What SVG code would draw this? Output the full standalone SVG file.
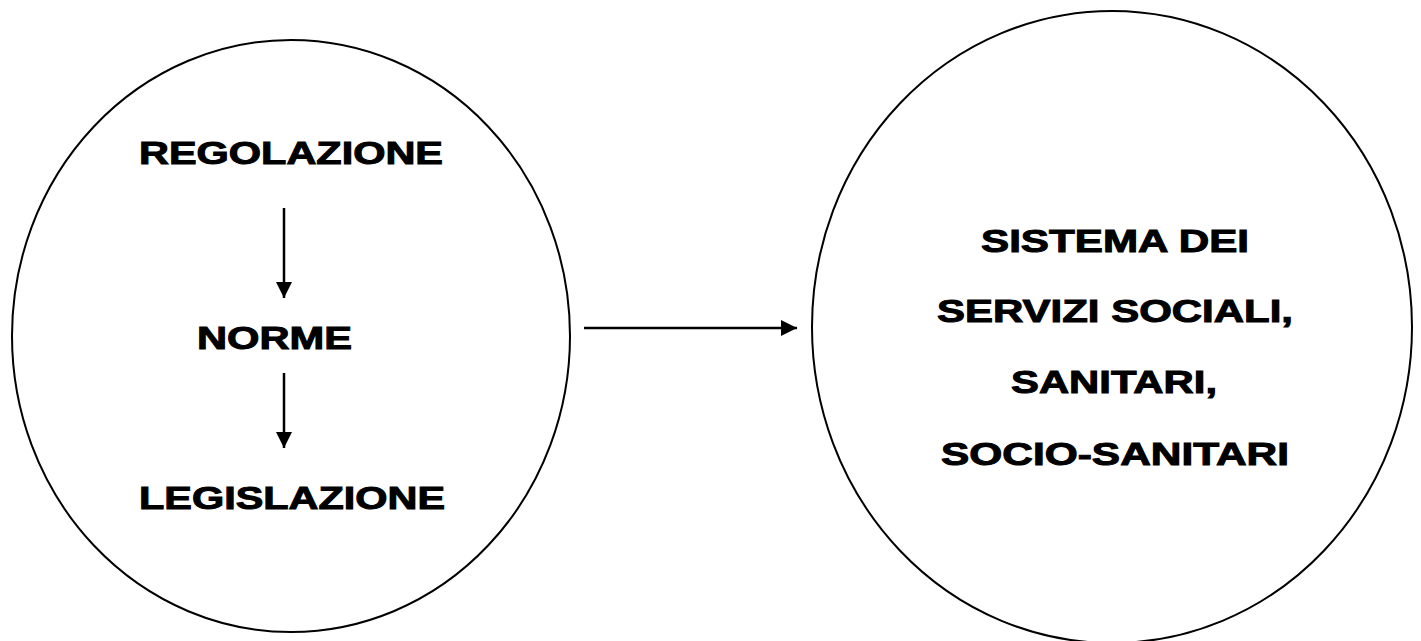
<svg xmlns="http://www.w3.org/2000/svg" width="1421" height="641" viewBox="0 0 1421 641">
<style>
.node{fill:#fff;stroke:#000;stroke-width:2}
.lbl{font-family:"Liberation Sans",Arial,sans-serif;font-weight:bold;font-size:32px;fill:#000;stroke:#000;stroke-width:1}
.con{stroke:#000;stroke-width:2.5;fill:none}
</style>
<defs>
<marker id="ah" markerUnits="userSpaceOnUse" markerWidth="16" markerHeight="16" viewBox="0 0 15 15" refX="15" refY="7.5" orient="auto">
<path d="M0,0 L15,7.5 L0,15 Z" fill="#000"/>
</marker>
</defs>
<rect width="1421" height="641" fill="#fff"/>
<g id="left-node">
<ellipse class="node" cx="291" cy="336" rx="279" ry="296"/>
<text class="lbl" x="139" y="164" textLength="304" lengthAdjust="spacingAndGlyphs">REGOLAZIONE</text>
<text class="lbl" x="197" y="349" textLength="155" lengthAdjust="spacingAndGlyphs">NORME</text>
<text class="lbl" x="139" y="509" textLength="306" lengthAdjust="spacingAndGlyphs">LEGISLAZIONE</text>
</g>
<g id="right-node">
<ellipse class="node" cx="1112" cy="327" rx="300" ry="316"/>
<text class="lbl" x="981" y="252" textLength="268" lengthAdjust="spacingAndGlyphs">SISTEMA DEI</text>
<text class="lbl" x="937" y="322" textLength="356" lengthAdjust="spacingAndGlyphs">SERVIZI SOCIALI,</text>
<text class="lbl" x="1011" y="393" textLength="206" lengthAdjust="spacingAndGlyphs">SANITARI,</text>
<text class="lbl" x="941" y="465" textLength="348" lengthAdjust="spacingAndGlyphs">SOCIO-SANITARI</text>
</g>
<g id="connectors">
<line class="con" x1="284" y1="208" x2="284" y2="298" marker-end="url(#ah)"/>
<line class="con" x1="284" y1="373" x2="284" y2="448" marker-end="url(#ah)"/>
<line class="con" x1="584" y1="328" x2="797" y2="328" marker-end="url(#ah)"/>
</g>
</svg>
